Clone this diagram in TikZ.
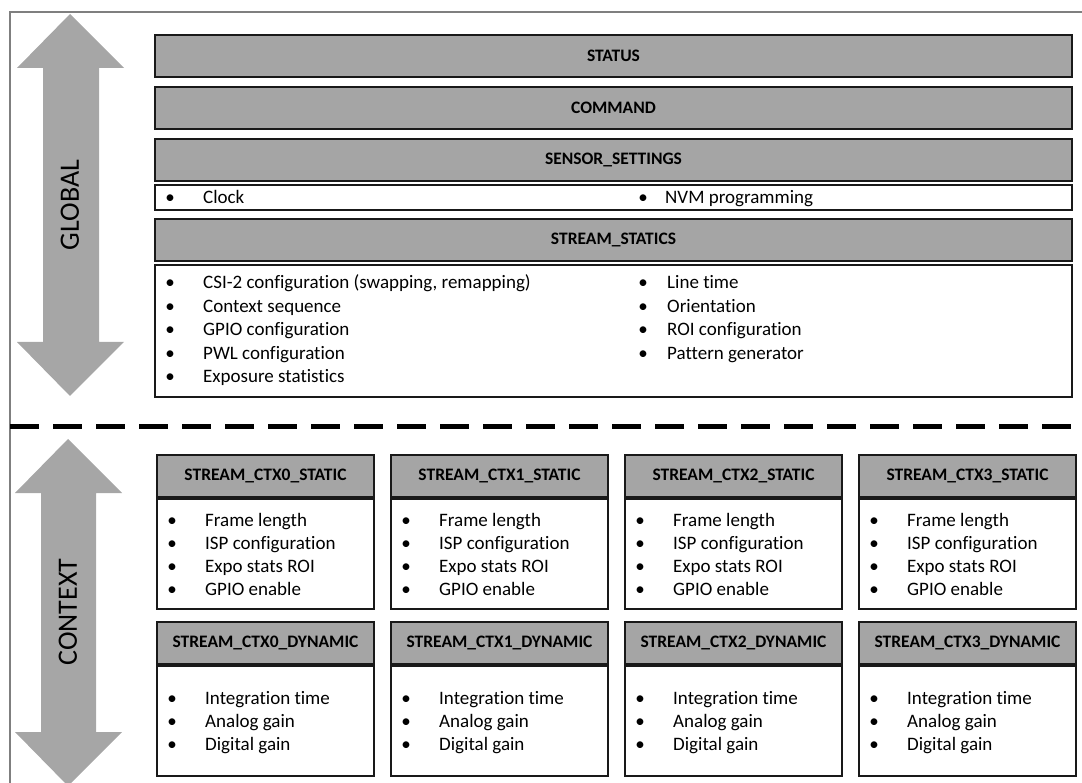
\documentclass[tikz,border=0pt]{standalone}
\usepackage{fontspec}
\setmainfont{Carlito}[Ligatures=NoCommon]
\usetikzlibrary{positioning,calc}
\definecolor{boxgray}{HTML}{A5A5A5}
\definecolor{arrowgray}{HTML}{A6A6A6}
\definecolor{framegray}{HTML}{7F7F7F}
\newcommand*{\hdrfont}{\fontsize{17.5}{20}\selectfont\bfseries}
\newcommand*{\itmfont}{\fontsize{19}{22}\selectfont}

\begin{document}
\begin{tikzpicture}[x=1pt,y=-1pt,
  box/.style={draw=black!90,line width=2.2pt,outer sep=0pt,inner sep=0pt,anchor=north west},
  hdr/.style={box,fill=boxgray,font=\hdrfont,minimum height=42pt},
  lst/.style={box,fill=white},
  bul/.style={anchor=base,inner sep=0pt,font=\itmfont},
  itm/.style={anchor=base west,inner sep=0pt,font=\itmfont},
  side/.style={rotate=90,inner sep=0pt,font=\fontsize{28}{32}\selectfont}]
\useasboundingbox (0,0) rectangle (1082,783);
% Frame round the whole picture (open to the right and bottom)
\draw[framegray,line width=1.5pt] (10,783) -- (10,12) -- (1082,12);
% Double arrows on the left
\fill[arrowgray] (70,14) -- (124,68) -- (99,68) -- (99,342) -- (124,342)
  -- (70,396) -- (17,342) -- (43,342) -- (43,68) -- (17,68) -- cycle;
\node[side] (global) at (70,205) {GLOBAL};
\fill[arrowgray] (68,439) -- (122,493) -- (96,493) -- (96,732) -- (122,732)
  -- (68,786) -- (15,732) -- (41,732) -- (41,493) -- (15,493) -- cycle;
\node[side] (context) at (68,612) {CONTEXT};
% Border between global and context registers
\draw[line width=5pt,dash pattern=on 29pt off 14pt] (10,427) -- (1082,427);
% Global register groups
\node[hdr,minimum width=917pt] (status) at (155,35) {STATUS};
\node[hdr,minimum width=917pt] (command) at (155,87) {COMMAND};
\node[hdr,minimum width=917pt] (sensor) at (155,139) {SENSOR\_SETTINGS};
\node[lst,minimum width=917pt,minimum height=25pt] (sensorlist) at (155,185) {};
\node[bul] (sb0) at (170,204) {\textbullet};
\node[itm] (clock) at (203,204) {Clock};
\node[bul] (sb1) at (643,204) {\textbullet};
\node[itm] (nvm) at (665,204) {NVM programming};
\node[hdr,minimum width=917pt] (statics) at (155,219) {STREAM\_STATICS};
\node[lst,minimum width=917pt,minimum height=132pt] (staticslist) at (155,265) {};
\foreach \txt [count=\i from 0] in {{CSI-2 configuration (swapping, remapping)},
    Context sequence,GPIO configuration,PWL configuration,Exposure statistics}{
  \node[bul] (glb\i) at (170,289+23.5*\i) {\textbullet};
  \node[itm] (gl\i) at (203,289+23.5*\i) {\txt};
}
\foreach \txt [count=\i from 0] in {Line time,Orientation,ROI configuration,
    Pattern generator}{
  \node[bul] (grb\i) at (643,289+23.5*\i) {\textbullet};
  \node[itm] (gr\i) at (667,289+23.5*\i) {\txt};
}
% Context register groups, one column per context
\foreach \c in {0,...,3}{
  \pgfmathsetmacro{\xl}{157+234*\c}
  \node[hdr,minimum width=217pt] (st\c) at (\xl,455) {STREAM\_CTX\c\_STATIC};
  \node[lst,minimum width=217pt,minimum height=110pt] (stl\c) at (\xl,499) {};
  \foreach \txt [count=\i from 0] in {Frame length,ISP configuration,
      Expo stats ROI,GPIO enable}{
    \node[bul] (sb\c\i) at (\xl+15,526+23*\i) {\textbullet};
    \node[itm] (s\c\i) at (\xl+48,526+23*\i) {\txt};
  }
  \node[hdr,minimum width=217pt] (dy\c) at (\xl,622) {STREAM\_CTX\c\_DYNAMIC};
  \node[lst,minimum width=217pt,minimum height=110pt] (dyl\c) at (\xl,666) {};
  \foreach \txt [count=\i from 0] in {Integration time,Analog gain,Digital gain}{
    \node[bul] (db\c\i) at (\xl+15,704+23*\i) {\textbullet};
    \node[itm] (d\c\i) at (\xl+48,704+23*\i) {\txt};
  }
}
\end{tikzpicture}
\end{document}
